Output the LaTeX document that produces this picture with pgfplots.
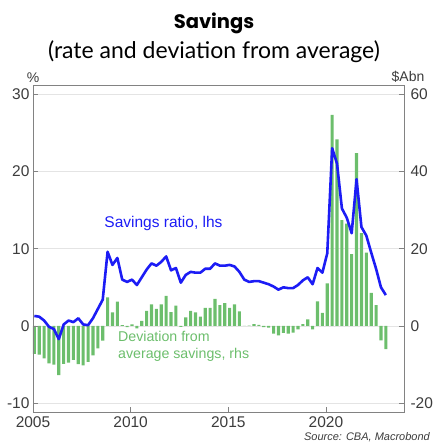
\documentclass[border=0pt]{standalone}
\usepackage{fontspec}
\setmainfont{Liberation Sans}
\newfontfamily\titlefont{Lato}
\newfontfamily\headfont{Poppins}
\usepackage{pgfplots}
\pgfplotsset{compat=1.18}
\usepackage{pgfplotstable}

\definecolor{ratioblue}{RGB}{28,28,245}
\definecolor{devgreen}{RGB}{108,190,108}
\definecolor{ticktext}{RGB}{60,60,60}
\definecolor{framegray}{RGB}{130,130,130}
\definecolor{gridgray}{RGB}{228,228,228}

% Quarterly data, 2005Q1 to 2023Q1 (t = decimal year of the bar centre)
% dev: deviation from average savings, $A bn (rhs)
% ratio: household savings ratio, % (lhs)
\pgfplotstableread{
t        dev    ratio
2005.07  -7.2   1.3
2005.32  -7.4   1.2
2005.57  -8.4   0.7
2005.82  -9.7  -0.1
2006.07 -10.0  -0.4
2006.32 -12.7  -1.7
2006.57  -9.8   0.2
2006.82  -9.5   0.7
2007.07  -8.8   0.5
2007.32  -9.9   1.0
2007.57 -10.2   0.2
2007.82  -9.3   0.1
2008.07  -7.6   1.0
2008.32  -5.8   2.2
2008.57  -3.8   3.4
2008.82   7.4   9.6
2009.07   3.5   7.9
2009.32   6.3   8.8
2009.57   0.2   6.0
2009.82  -0.3   5.7
2010.07   0.4   6.0
2010.32  -0.6   5.3
2010.57   1.3   6.3
2010.82   3.9   7.3
2011.07   5.6   8.1
2011.32   4.4   7.8
2011.57   5.6   8.3
2011.82   7.8   9.0
2012.07   3.6   7.2
2012.32   5.3   7.5
2012.57  -0.2   5.6
2012.82   2.2   6.6
2013.07   3.9   7.0
2013.32   3.5   6.9
2013.57   2.4   6.9
2013.82   4.7   7.4
2014.07   4.7   7.4
2014.32   7.0   8.1
2014.57   5.4   7.8
2014.82   5.9   7.8
2015.07   4.7   7.9
2015.32   5.6   7.7
2015.57   3.8   7.0
2015.82   0.0   6.0
2016.07   0.1   5.7
2016.32   0.5   5.8
2016.57   0.3   5.8
2016.82  -0.3   5.6
2017.07  -0.4   5.4
2017.32  -2.0   5.1
2017.57  -2.4   4.7
2017.82  -1.8   5.0
2018.07  -2.0   4.9
2018.32  -1.7   4.9
2018.57  -0.9   5.3
2018.82   0.5   5.9
2019.07   1.7   6.3
2019.32  -0.9   5.4
2019.57   6.4   7.5
2019.82   3.4   6.9
2020.07  11.0   9.4
2020.32  54.6  23.0
2020.57  48.3  21.0
2020.82  27.4  15.2
2021.07  26.5  14.0
2021.32  18.6  12.0
2021.57  44.7  19.0
2021.82  24.0  12.8
2022.07  19.0  11.7
2022.32   8.6   9.5
2022.57   5.4   7.4
2022.82  -3.7   5.0
2023.07  -6.0   4.0
}\savingsdata

\begin{document}
\begin{tikzpicture}
\useasboundingbox (0pt,0pt) rectangle (435pt,-443pt);

% titles
\node[font=\headfont\bfseries\fontsize{19.5}{22}\selectfont, anchor=base] at (214pt,-28.5pt) {Savings};
\node[font=\titlefont\fontsize{23}{26}\selectfont, anchor=base] at (214pt,-58.5pt) {(rate and deviation from average)};

% right-hand axis: deviation bars, frame, grid and x ticks
\begin{axis}[
  at={(33pt,-412pt)}, anchor=south west,
  scale only axis, width=371pt, height=327pt,
  xmin=2005, xmax=2024,
  ymin=-22.26, ymax=62.36,
  axis line style={framegray, line width=0.9pt},
  xtick={2005,2010,2015,2020},
  xticklabels={2005,2010,2015,2020},
  ytick={-20,0,20,40,60},
  yticklabels={-20,0,20,40,60},
  ytick pos=right, yticklabel pos=right,
  xtick pos=bottom,
  tick align=inside,
  major tick length=5pt,
  tick style={framegray, line width=0.7pt},
  ymajorgrids, grid style={gridgray, line width=0.6pt},
  ticklabel style={font=\fontsize{15.5}{17}\selectfont, text=ticktext},
  xticklabel style={yshift=-1pt},
  yticklabel style={xshift=3pt},
  clip=false,
]
\addplot[ybar, bar width=0.16, fill=devgreen, draw=none]
  table[x=t, y=dev] {\savingsdata};
\node[anchor=south, font=\fontsize{14}{16}\selectfont, text=ticktext]
  at (rel axis cs:1,1) [xshift=4pt, yshift=-1pt] {\$Abn};
\node[anchor=north west, align=left, inner sep=0pt,
      font=\fontsize{14.2}{17.5}\selectfont, text=devgreen]
  at (axis cs:2009.35,-1.2) {Deviation from\\average savings, rhs};
\end{axis}

% left-hand axis: savings ratio line
\begin{axis}[
  at={(33pt,-412pt)}, anchor=south west,
  scale only axis, width=371pt, height=327pt,
  xmin=2005, xmax=2024,
  ymin=-11.13, ymax=31.18,
  axis x line=none,
  axis y line*=left,
  axis line style={framegray, line width=0.9pt},
  ytick={-10,0,10,20,30},
  yticklabels={-10,0,10,20,30},
  tick align=inside,
  major tick length=5pt,
  tick style={framegray, line width=0.7pt},
  ticklabel style={font=\fontsize{15.5}{17}\selectfont, text=ticktext},
  clip=false,
]
\addplot[ratioblue, line width=2.6pt, line join=round]
  table[x=t, y=ratio] {\savingsdata};
\node[anchor=south, font=\fontsize{14}{16}\selectfont, text=ticktext]
  at (rel axis cs:0,1) [yshift=-1pt] {\%};
\node[anchor=base west, inner sep=0pt, font=\fontsize{15.5}{17}\selectfont, text=ratioblue]
  at (axis cs:2008.65,12.7) {Savings ratio, lhs};
\end{axis}

% source line
\node[anchor=base east, inner sep=0pt, font=\itshape\fontsize{11}{12}\selectfont, text=ticktext]
  at (430pt,-440pt) {Source: CBA, Macrobond};
\end{tikzpicture}
\end{document}
